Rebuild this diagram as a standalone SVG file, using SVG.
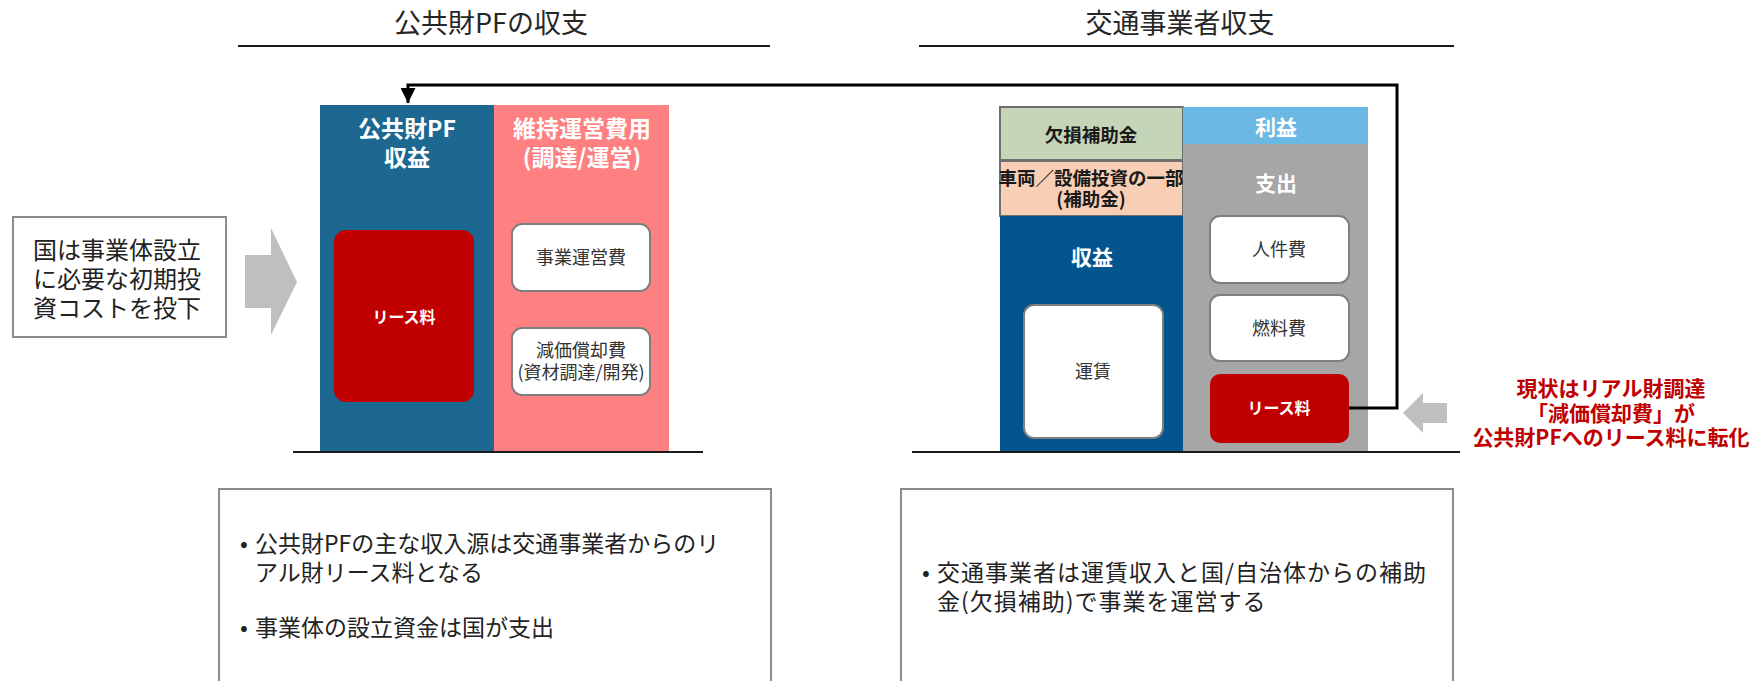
<svg xmlns="http://www.w3.org/2000/svg" width="1758" height="681" viewBox="0 0 1758 681">
<style>
text{font-family:'Noto Sans CJK JP','Noto Sans',sans-serif;}
.title{font-size:27px;fill:#262626;text-anchor:middle;}
.hw{font-size:23px;font-weight:bold;fill:#fff;text-anchor:middle;}
.hw2{font-size:21px;font-weight:bold;fill:#fff;text-anchor:middle;}
.lease{font-size:16px;font-weight:bold;fill:#fff;text-anchor:middle;}
.wb{fill:#fff;stroke:#7f7f7f;stroke-width:2;}
.wt{font-size:18px;fill:#333;text-anchor:middle;}
.bt{font-size:18.5px;font-weight:bold;fill:#1a1a1a;text-anchor:middle;}
.body{font-size:23px;fill:#222;}
.red{font-size:21px;font-weight:bold;fill:#C00000;text-anchor:middle;}
.rule{stroke:#1a1a1a;stroke-width:2;fill:none;}
.frame{fill:#fff;stroke:#8c8c8c;stroke-width:2;}
.garrow{fill:#BFBFBF;}
</style>
<defs>
<marker id="ah" markerWidth="5" markerHeight="5" refX="5" refY="2.5" orient="auto" markerUnits="strokeWidth">
<path d="M0,0 L5,2.5 L0,5 Z" fill="#000"/>
</marker>
</defs>
<rect width="1758" height="681" fill="#fff"/>

<g id="title-left">
<text class="title" x="491" y="33">公共財PFの収支</text>
<line class="rule" x1="238" y1="46" x2="770" y2="46"/>
</g>
<g id="title-right">
<text class="title" x="1180" y="33">交通事業者収支</text>
<line class="rule" x1="919" y1="46" x2="1454" y2="46"/>
</g>

<g id="gov-box">
<rect class="frame" x="13" y="217" width="213" height="120"/>
<text style="font-size:24px;fill:#222" x="33" y="259">国は事業体設立</text>
<text style="font-size:24px;fill:#222" x="33" y="288">に必要な初期投</text>
<text style="font-size:24px;fill:#222" x="33" y="317">資コストを投下</text>
</g>
<g id="gov-arrow">
<polygon class="garrow" points="245,255 271,255 271,228 297,282 271,335 271,308 245,308"/>
</g>

<g id="pf-revenue">
<rect x="320" y="105" width="174" height="347" fill="#1C6891"/>
<text class="hw" x="407" y="137">公共財PF</text>
<text class="hw" x="407" y="166">収益</text>
</g>
<g id="pf-lease">
<rect x="334" y="230" width="140" height="172" rx="12" fill="#C00000"/>
<text class="lease" x="404" y="323">リース料</text>
</g>
<g id="pf-cost">
<rect x="494" y="105" width="175" height="347" fill="#FF8080"/>
<text class="hw" x="582" y="137">維持運営費用</text>
<text class="hw" x="582" y="166">(調達/運営)</text>
</g>
<g id="pf-opex">
<rect class="wb" x="512" y="224" width="138" height="67" rx="10"/>
<text class="wt" x="581" y="264">事業運営費</text>
</g>
<g id="pf-depr">
<rect class="wb" x="512" y="328" width="138" height="67" rx="10"/>
<text class="wt" x="581" y="357">減価償却費</text>
<text class="wt" x="581" y="379">(資材調達/開発)</text>
</g>
<line class="rule" x1="293" y1="452" x2="703" y2="452"/>

<g id="op-deficit">
<rect x="1000" y="107" width="183" height="53" fill="#C4D5B8" stroke="#6f6f6f" stroke-width="2"/>
<text class="bt" x="1091" y="142">欠損補助金</text>
</g>
<g id="op-capex">
<rect x="1000" y="161" width="183" height="55" fill="#F8CFB5" stroke="#6f6f6f" stroke-width="2"/>
<text class="bt" x="1091" y="185">車両／設備投資の一部</text>
<text class="bt" x="1091" y="206">(補助金)</text>
</g>
<g id="op-revenue">
<rect x="1000" y="216" width="183" height="236" fill="#02558F"/>
<text class="hw2" x="1092" y="265">収益</text>
</g>
<g id="op-fare">
<rect class="wb" x="1024" y="305" width="139" height="133" rx="10"/>
<text class="wt" x="1093" y="378">運賃</text>
</g>
<g id="op-profit">
<rect x="1183" y="107" width="185" height="37" fill="#6CB8E4"/>
<text class="hw2" x="1276" y="135">利益</text>
</g>
<g id="op-expense">
<rect x="1183" y="144" width="185" height="308" fill="#A6A6A6"/>
<text class="hw2" x="1276" y="191">支出</text>
</g>
<g id="op-labor">
<rect class="wb" x="1210" y="216" width="139" height="67" rx="10"/>
<text class="wt" x="1279" y="256">人件費</text>
</g>
<g id="op-fuel">
<rect class="wb" x="1210" y="295" width="139" height="66" rx="10"/>
<text class="wt" x="1279" y="335">燃料費</text>
</g>
<g id="op-lease">
<rect x="1210" y="374" width="139" height="69" rx="10" fill="#C00000"/>
<text class="lease" x="1279" y="414">リース料</text>
</g>
<line class="rule" x1="912" y1="452" x2="1460" y2="452"/>

<g id="connectors">
<path d="M1349,408 L1397,408 L1397,85 L408,85 L408,103" fill="none" stroke="#000" stroke-width="3" marker-end="url(#ah)"/>
</g>

<g id="note-arrow">
<polygon class="garrow" points="1447,403 1423,403 1423,393 1403,413 1423,433 1423,423 1447,423"/>
</g>
<g id="note">
<text class="red" x="1611" y="396">現状はリアル財調達</text>
<text class="red" x="1611" y="421">「減価償却費」が</text>
<text class="red" x="1611" y="445">公共財PFへのリース料に転化</text>
</g>

<g id="pf-notes">
<rect class="frame" x="219" y="489" width="552" height="200"/>
<text class="body" x="240" y="552">•</text>
<text class="body" x="255" y="552">公共財PFの主な収入源は交通事業者からのリ</text>
<text class="body" x="255" y="581">アル財リース料となる</text>
<text class="body" x="240" y="636">•</text>
<text class="body" x="255" y="636">事業体の設立資金は国が支出</text>
</g>
<g id="op-notes">
<rect class="frame" x="901" y="489" width="552" height="200"/>
<text class="body" x="922" y="581">•</text>
<text class="body" x="937" y="581" letter-spacing="1">交通事業者は運賃収入と国/自治体からの補助</text>
<text class="body" x="937" y="610" letter-spacing="1">金(欠損補助)で事業を運営する</text>
</g>
</svg>
